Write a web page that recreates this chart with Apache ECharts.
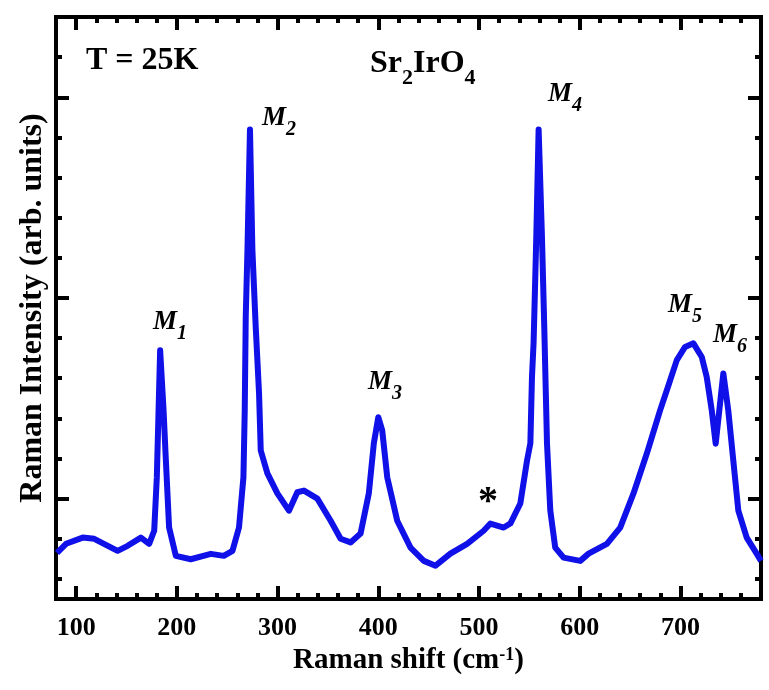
<!DOCTYPE html>
<html>
<head>
<meta charset="utf-8">
<script src="https://cdn.jsdelivr.net/npm/echarts@6.0.0/dist/echarts.min.js"></script>
<style>
    html, body { margin: 0; padding: 0; background: #fff; }
    #ramanChart { width: 769px; height: 690px; }
</style>
</head>
<body>
<div id="ramanChart"></div>
<script>
    var SERIF = '"Liberation Serif", "Times New Roman", serif'

    // Raman shift (cm-1)
    var shift = [81, 90, 106.5, 118, 127.6, 141.2, 151.1, 164.3, 172.5, 177.5,
        180.1, 181.4, 183.4, 186.8, 189.1, 192.3, 199, 213.8, 233.7, 246.6,
        255.2, 261.7, 266.1, 267.4, 268.4, 270.1, 272.6, 275, 278.3, 281.6,
        283.3, 289.9, 299.8, 311.3, 319.6, 326.2, 339.5, 352.7, 362.6, 372.5,
        382.4, 390.6, 395.6, 400, 403.9, 408.9, 418.8, 432, 445.2, 456.8,
        471.6, 488.2, 504.6, 511.3, 524.5, 531.1, 541, 547.7, 551, 552.6,
        554.2, 555.9, 556.9, 559.2, 560.9, 562.5, 564.8, 567.5, 570.8, 575.7,
        584, 600.5, 608.8, 627, 640.2, 653.4, 666.7, 679.8, 686.5, 696.4,
        704.6, 712.9, 721.2, 726.1, 731.1, 735, 738.6, 742.6, 747.5, 752.5,
        757.5, 765.8, 775.7, 780]
    // intensity, arbitrary units (one unit = one minor tick)
    var intensity = [0.65, 0.875, 1.03, 1.0, 0.875, 0.7, 0.825, 1.03, 0.875, 1.2,
        2.53, 3.78, 5.7, 4.2, 2.95, 1.28, 0.575, 0.49, 0.625, 0.575,
        0.7, 1.28, 2.53, 4.2, 6.53, 8.2, 11.2, 8.2, 6.28, 4.63,
        3.2, 2.63, 2.13, 1.7, 2.16, 2.2, 2.0, 1.45, 1.0, 0.91,
        1.13, 2.13, 3.38, 4.03, 3.7, 2.53, 1.45, 0.78, 0.45, 0.33,
        0.63, 0.875, 1.2, 1.38, 1.28, 1.38, 1.88, 2.95, 3.38, 5.03,
        5.88, 7.53, 8.53, 11.2, 11.24, 8.53, 6.28, 3.38, 1.7, 0.78,
        0.53, 0.45, 0.63, 0.875, 1.28, 2.13, 3.13, 4.2, 4.7, 5.45,
        5.78, 5.87, 5.53, 5.03, 4.2, 3.37, 4.2, 5.12, 4.2, 2.95,
        1.7, 1.03, 0.63, 0.45]

    var xMajorTicks = [100, 200, 300, 400, 500, 600, 700]
    var xMinorTicks = [100, 120, 140, 160, 180, 200, 220, 240, 260, 280, 300, 320, 340, 360,
        380, 400, 420, 440, 460, 480, 500, 520, 540, 560, 580, 600, 620, 640, 660, 680,
        700, 720, 740, 760]
    var yMajorTicks = [2, 7, 12]
    var yMinorTicks = [0, 1, 2, 3, 4, 5, 6, 7, 8, 9, 10, 11, 12, 13, 14]

    // axis that only draws inward ticks at the given values
    function tickAxis(pos, min, max, ticks, len, grid) {
        return {
            type: 'value', position: pos, min: min, max: max, gridIndex: grid || 0,
            axisLine: {show: false, onZero: false},
            splitLine: {show: false},
            axisTick: {show: true, inside: true, length: len, customValues: ticks, lineStyle: {color: '#000', width: 4}},
            axisLabel: {show: false}
        }
    }

    // separate axes carrying the tick labels and titles
    var xLabelAxis = {
        type: 'value', position: 'bottom', min: 80, max: 780,
        axisLine: {show: false, onZero: false},
        axisTick: {show: false},
        splitLine: {show: false},
        axisLabel: {
            show: true, customValues: xMajorTicks, margin: 16, color: '#000',
            fontFamily: SERIF, fontWeight: 'bold', fontSize: 26
        },
        name: '{t|Raman shift (cm}{sup|-1}{t|)}',
        nameLocation: 'middle',
        nameGap: 47,
        nameTextStyle: {
            color: '#000',
            rich: {
                t: {fontFamily: SERIF, fontWeight: 'bold', fontSize: 29, lineHeight: 29, verticalAlign: 'bottom', color: '#000'},
                sup: {fontFamily: SERIF, fontWeight: 'bold', fontSize: 18, lineHeight: 18, verticalAlign: 'top', color: '#000'}
            }
        }
    }
    var yLabelAxis = {
        type: 'value', position: 'left', min: -0.5, max: 14,
        axisLine: {show: false, onZero: false},
        axisTick: {show: false},
        splitLine: {show: false},
        axisLabel: {show: false},
        name: 'Raman Intensity (arb. units)',
        nameLocation: 'middle',
        nameRotate: 90,
        nameGap: 7,
        nameTextStyle: {color: '#000', fontFamily: SERIF, fontWeight: 'bold', fontSize: 32}
    }

    // M_n labels: italic bold with a lowered index
    var mRich = {
        m: {fontFamily: SERIF, fontStyle: 'italic', fontWeight: 'bold', fontSize: 27, lineHeight: 27, verticalAlign: 'top', fill: '#000'},
        s: {fontFamily: SERIF, fontStyle: 'italic', fontWeight: 'bold', fontSize: 20, lineHeight: 49, verticalAlign: 'middle', fill: '#000'}
    }
    var formulaRich = {
        b: {fontFamily: SERIF, fontWeight: 'bold', fontSize: 32, lineHeight: 32, verticalAlign: 'top', fill: '#000'},
        s: {fontFamily: SERIF, fontWeight: 'bold', fontSize: 22, lineHeight: 61, verticalAlign: 'middle', fill: '#000'}
    }

    function modeLabel(n, x, y) {
        return {
            type: 'text', x: x, y: y, z: 10,
            style: {text: '{m|M}{s|' + n + '}', rich: mRich, fill: '#000', textVerticalAlign: 'top'}
        }
    }

    var option = {
        animation: false,
        grid: [
            {left: 56, top: 17, right: 8, bottom: 91, show: true, borderColor: '#000', borderWidth: 4},
            // same rect, holds only the top/bottom tick axes
            {left: 56, top: 17, right: 8, bottom: 91, show: false}
        ],
        xAxis: [
            xLabelAxis,
            tickAxis('bottom', 80, 780, xMajorTicks, 13, 1),
            tickAxis('bottom', 80, 780, xMinorTicks, 6, 1),
            tickAxis('top', 80, 780, xMajorTicks, 13, 1),
            tickAxis('top', 80, 780, xMinorTicks, 6, 1)
        ],
        yAxis: [
            tickAxis('left', -0.5, 14, yMajorTicks, 13),
            tickAxis('left', -0.5, 14, yMinorTicks, 6),
            tickAxis('right', -0.5, 14, yMajorTicks, 13),
            tickAxis('right', -0.5, 14, yMinorTicks, 6),
            yLabelAxis,
            {type: 'value', gridIndex: 1, show: false, min: -0.5, max: 14,
                axisLine: {show: false, onZero: false}, splitLine: {show: false}}
        ],
        graphic: [
            {type: 'text', x: 86, y: 45, style: {text: 'T = 25K', fill: '#000', font: 'bold 32px ' + SERIF, textVerticalAlign: 'top'}},
            {type: 'text', x: 370, y: 48, style: {text: '{b|Sr}{s|2}{b|IrO}{s|4}', rich: formulaRich, fill: '#000', textVerticalAlign: 'top'}},
            modeLabel(1, 153, 309),
            modeLabel(2, 262, 105),
            modeLabel(3, 368, 369),
            modeLabel(4, 548, 81),
            modeLabel(5, 668, 292),
            modeLabel(6, 713, 322),
            {type: 'text', x: 478, y: 483, style: {text: '*', fill: '#000', font: 'bold 40px ' + SERIF, textVerticalAlign: 'top'}}
        ],
        series: [{
            type: 'line',
            xAxisIndex: 0,
            yAxisIndex: 0,
            showSymbol: false,
            smooth: false,
            lineStyle: {color: '#1010e8', width: 6, join: 'round'},
            data: shift.map(function (s, i) { return [s, intensity[i]] })
        }]
    }

    var chart = echarts.init(document.getElementById('ramanChart'))
    chart.setOption(option)
</script>
</body>
</html>
